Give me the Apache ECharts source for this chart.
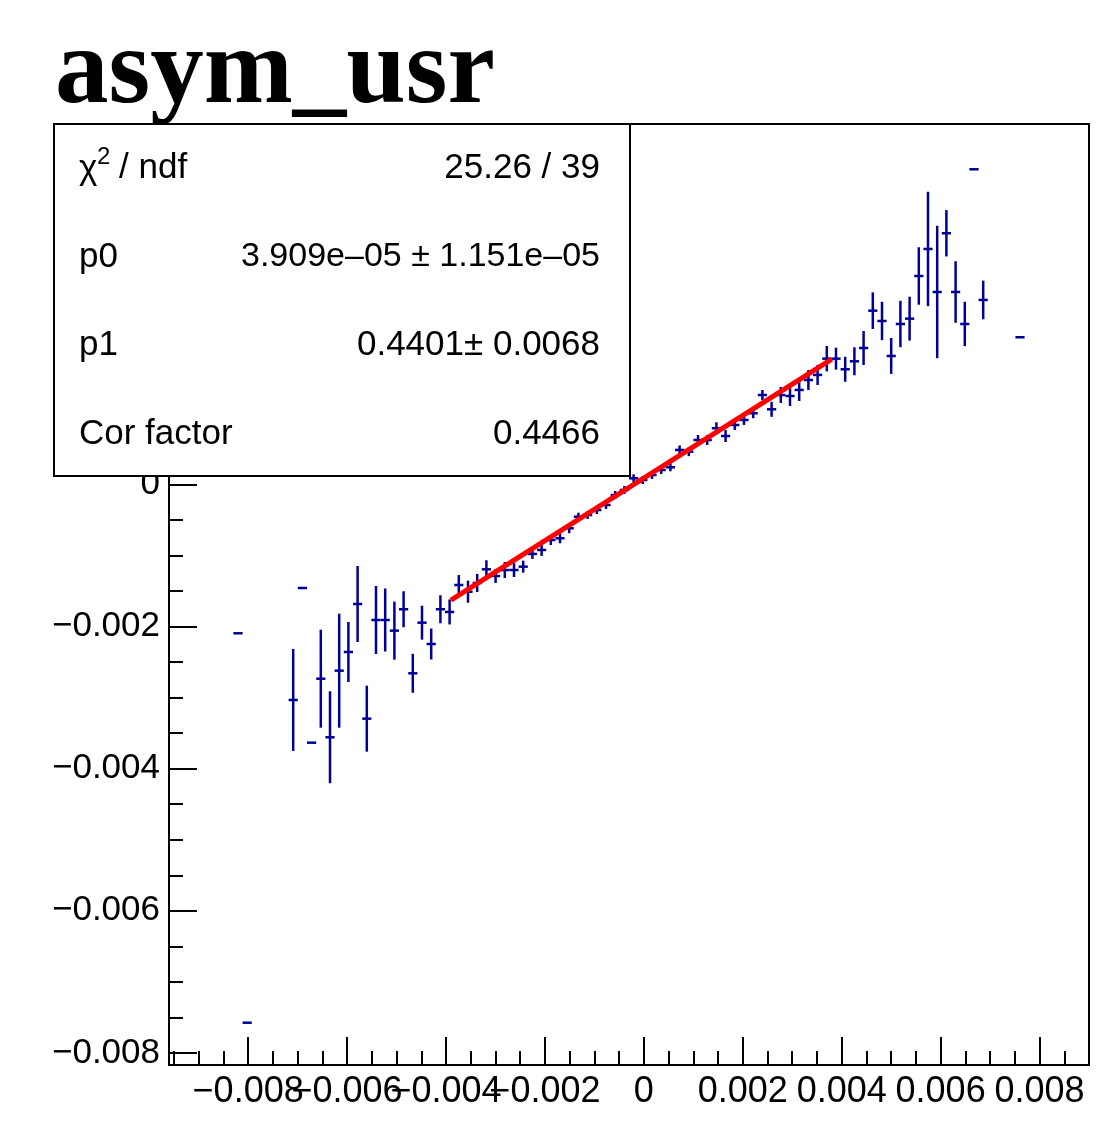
<!DOCTYPE html>
<html>
<head>
<meta charset="utf-8">
<script src="https://cdn.jsdelivr.net/npm/echarts@6/dist/echarts.min.js"></script>
<style>
html,body{margin:0;padding:0;background:#fff;}
#chart{width:1096px;height:1133px;}
</style>
</head>
<body>
<div id="chart"></div>
<script>
// ---- data (profile bins) ----
const binCenters = [-0.008205, -0.008019, -0.007089, -0.006903, -0.006717, -0.006531, -0.006345, -0.006159, -0.005973, -0.005787, -0.005601, -0.005415, -0.005229, -0.005043, -0.004857, -0.004671, -0.004485, -0.004299, -0.004113, -0.003927, -0.003741, -0.003555, -0.003369, -0.003183, -0.002997, -0.002811, -0.002625, -0.002439, -0.002253, -0.002067, -0.001881, -0.001695, -0.001509, -0.001323, -0.001137, -0.000951, -0.000765, -0.000579, -0.000393, -0.000207, -0.000021, 0.000165, 0.000351, 0.000537, 0.000723, 0.000909, 0.001095, 0.001281, 0.001467, 0.001653, 0.001839, 0.002025, 0.002211, 0.002397, 0.002583, 0.002769, 0.002955, 0.003141, 0.003327, 0.003513, 0.003699, 0.003885, 0.004071, 0.004257, 0.004443, 0.004629, 0.004815, 0.005001, 0.005187, 0.005373, 0.005559, 0.005745, 0.005931, 0.006117, 0.006303, 0.006489, 0.006675, 0.006861, 0.007605];
const meanValues = [-0.002096, -0.007574, -0.003034, -0.001459, -0.003635, -0.002735, -0.003559, -0.002622, -0.002359, -0.001684, -0.003297, -0.001909, -0.001909, -0.002059, -0.001758, -0.002659, -0.001947, -0.002247, -0.001758, -0.001796, -0.001417, -0.001511, -0.001388, -0.001196, -0.00129, -0.001206, -0.001206, -0.001159, -0.00098, -0.000924, -0.000784, -0.00076, -0.000619, -0.000456, -0.000432, -0.000362, -0.000291, -0.000151, -0.00008, 0.000084, 0.00006, 0.000131, 0.000201, 0.000239, 0.000483, 0.000459, 0.000623, 0.000623, 0.000788, 0.000679, 0.000834, 0.000905, 0.000999, 0.001256, 0.001055, 0.001256, 0.001242, 0.001327, 0.001467, 0.001538, 0.001767, 0.001767, 0.001618, 0.00173, 0.001917, 0.002442, 0.002297, 0.001805, 0.002255, 0.00233, 0.00293, 0.00331, 0.002705, 0.003531, 0.002705, 0.002255, 0.004431, 0.002593, 0.002068];
const meanErrors = [0, 0, 0.000717, 0, 0, 0.000689, 0.000647, 0.000802, 0.000422, 0.000535, 0.000464, 0.000478, 0.000443, 0.000408, 0.000253, 0.000274, 0.000239, 0.000218, 0.000197, 0.000176, 0.000141, 0.000155, 0.000127, 0.000127, 0.000098, 0.000113, 0.000098, 0.000084, 0.00007, 0.000084, 0.00007, 0.00007, 0.00007, 0.000056, 0.000056, 0.000056, 0.000056, 0.000056, 0.000056, 0.000056, 0.000056, 0.000056, 0.000056, 0.000056, 0.000063, 0.000063, 0.00007, 0.00007, 0.000084, 0.000084, 0.00007, 0.00007, 0.00007, 0.00007, 0.000106, 0.000113, 0.000141, 0.000155, 0.000141, 0.000141, 0.000179, 0.000155, 0.000176, 0.000197, 0.000239, 0.000257, 0.00027, 0.000253, 0.000326, 0.000309, 0.000404, 0.000805, 0.000931, 0.000326, 0.000433, 0.000312, 0, 0.000272, 0];
const binHalfWidth = 0.000093;

// fit line (pol1) end points
const fitX = [-0.0039, 0.0038];
const fitY = [-0.00163, 0.00176];

// axis ticks
const xMajorTicks = [-0.008, -0.006, -0.004, -0.002, 0, 0.002, 0.004, 0.006, 0.008];
const xLabelsA = [-0.008, -0.004, 0, 0.004, 0.008];
const xLabelsB = [-0.006, -0.002, 0.002, 0.006];
const xMinorTicks = [-0.0095, -0.009, -0.0085, -0.0075, -0.007, -0.0065, -0.0055, -0.005, -0.0045, -0.0035, -0.003, -0.0025, -0.0015, -0.001, -0.0005, 0.0005, 0.001, 0.0015, 0.0025, 0.003, 0.0035, 0.0045, 0.005, 0.0055, 0.0065, 0.007, 0.0075, 0.0085];
const yMajorTicks = [-0.008, -0.006, -0.004, -0.002, 0, 0.002, 0.004];
const yMinorTicks = [-0.0075, -0.007, -0.0065, -0.0055, -0.005, -0.0045, -0.0035, -0.003, -0.0025, -0.0015, -0.001, -0.0005, 0.0005, 0.001, 0.0015, 0.0025, 0.003, 0.0035, 0.0045, 0.005];

// stats box texts
const title = 'asym_usr';
const statLabels = ['/ ndf', 'p0', 'p1', 'Cor factor'];
const statValues = ['25.26 / 39', '3.909e\u201305 \u00b1 1.151e\u201305', '0.4401\u00b1 0.0068', '0.4466'];

const X_MIN = -0.0096, X_MAX = 0.009;
const Y_MIN = -0.008169, Y_MAX = 0.005068;

const fmt = v => v === 0 ? '0' : (v < 0 ? '\u2212' : '') + Math.abs(v).toFixed(3);

const pts = binCenters.map((x, i) => [x, meanValues[i], meanErrors[i], binHalfWidth]);

const FONT = 'Liberation Sans, Arial, Helvetica, sans-serif';
const BLUE = '#000099';
const LBL = {color: '#000', fontFamily: FONT, fontSize: 36, hideOverlap: false, showMinLabel: true, showMaxLabel: true};

const chart = echarts.init(document.getElementById('chart'), null, {renderer: 'canvas'});

function hiddenAxis(extra) {
  return Object.assign({type: 'value', splitLine: {show: false}, axisLine: {show: false, onZero: false}}, extra);
}

const option = {
  animation: false,
  backgroundColor: '#fff',
  grid: {left: 169, right: 7, top: 124, bottom: 68, show: true, borderColor: '#000', borderWidth: 2, backgroundColor: 'transparent'},
  xAxis: [
    {
      type: 'value', min: X_MIN, max: X_MAX, position: 'bottom', splitLine: {show: false},
      axisLine: {show: true, onZero: false, lineStyle: {color: '#000', width: 2}},
      axisTick: {show: true, inside: true, length: 28, customValues: xMajorTicks, lineStyle: {color: '#000', width: 2}},
      axisLabel: Object.assign({show: true, customValues: xLabelsA, formatter: fmt, margin: 9}, LBL)
    },
    hiddenAxis({
      min: X_MIN, max: X_MAX, position: 'bottom',
      axisTick: {show: true, inside: true, length: 14, customValues: xMinorTicks, lineStyle: {color: '#000', width: 2}},
      axisLabel: {show: false}
    }),
    hiddenAxis({
      min: X_MIN, max: X_MAX, position: 'bottom',
      axisTick: {show: false},
      axisLabel: Object.assign({show: true, customValues: xLabelsB, formatter: fmt, margin: 9}, LBL)
    })
  ],
  yAxis: [
    {
      type: 'value', min: Y_MIN, max: Y_MAX, position: 'left', splitLine: {show: false},
      axisLine: {show: true, onZero: false, lineStyle: {color: '#000', width: 2}},
      axisTick: {show: true, inside: true, length: 28, customValues: yMajorTicks, lineStyle: {color: '#000', width: 2}},
      axisLabel: Object.assign({show: true, customValues: yMajorTicks, formatter: fmt, margin: 9}, LBL, {fontSize: 35})
    },
    hiddenAxis({
      min: Y_MIN, max: Y_MAX, position: 'left',
      axisTick: {show: true, inside: true, length: 14, customValues: yMinorTicks, lineStyle: {color: '#000', width: 2}},
      axisLabel: {show: false}
    })
  ],
  series: [
    {
      type: 'custom',
      xAxisIndex: 0, yAxisIndex: 0,
      data: pts,
      z: 5,
      clip: true,
      renderItem: function (params, api) {
        const x = api.value(0), y = api.value(1), e = api.value(2), h = api.value(3);
        const l = api.coord([x - h, y]);
        const r = api.coord([x + h, y]);
        const children = [{
          type: 'line',
          shape: {x1: l[0], y1: l[1], x2: r[0], y2: r[1]},
          style: {stroke: BLUE, lineWidth: 2.5}
        }];
        if (e > 0) {
          const t = api.coord([x, y + e]);
          const b = api.coord([x, y - e]);
          children.push({
            type: 'line',
            shape: {x1: t[0], y1: t[1], x2: b[0], y2: b[1]},
            style: {stroke: BLUE, lineWidth: 2.5}
          });
        }
        return {type: 'group', children: children};
      }
    },
    {
      type: 'line',
      xAxisIndex: 0, yAxisIndex: 0,
      data: fitX.map((x, i) => [x, fitY[i]]),
      showSymbol: false,
      symbol: 'none',
      z: 6,
      lineStyle: {color: '#ff0000', width: 5},
      silent: true
    }
  ],
  graphic: [
    {
      type: 'text', left: 55, top: 21, z: 100,
      style: {text: title, font: 'bold 107px "Liberation Serif", "Times New Roman", serif', fill: '#000'}
    },
    {
      type: 'rect', z: 100,
      shape: {x: 54, y: 124, width: 576, height: 352},
      style: {fill: '#fff', stroke: '#000', lineWidth: 2}
    },
    // chi^2 label
    {type: 'text', z: 101, x: 79, y: 169, style: {text: '\u03c7', font: '35px ' + FONT, fill: '#000', verticalAlign: 'middle', align: 'left'}},
    {type: 'text', z: 101, x: 97, y: 157, style: {text: '2', font: '24px ' + FONT, fill: '#000', verticalAlign: 'middle', align: 'left'}},
    {type: 'text', z: 101, x: 119, y: 168, style: {text: statLabels[0], font: '35px ' + FONT, fill: '#000', verticalAlign: 'middle', align: 'left'}},
    {type: 'text', z: 101, x: 79, y: 257, style: {text: statLabels[1], font: '35px ' + FONT, fill: '#000', verticalAlign: 'middle', align: 'left'}},
    {type: 'text', z: 101, x: 79, y: 345, style: {text: statLabels[2], font: '35px ' + FONT, fill: '#000', verticalAlign: 'middle', align: 'left'}},
    {type: 'text', z: 101, x: 79, y: 434, style: {text: statLabels[3], font: '35px ' + FONT, fill: '#000', verticalAlign: 'middle', align: 'left'}},
    {type: 'text', z: 101, x: 600, y: 168, style: {text: statValues[0], font: '35px ' + FONT, fill: '#000', verticalAlign: 'middle', align: 'right'}},
    {type: 'text', z: 101, x: 600, y: 257, style: {text: statValues[1], font: '34px ' + FONT, fill: '#000', verticalAlign: 'middle', align: 'right'}},
    {type: 'text', z: 101, x: 600, y: 345, style: {text: statValues[2], font: '35px ' + FONT, fill: '#000', verticalAlign: 'middle', align: 'right'}},
    {type: 'text', z: 101, x: 600, y: 434, style: {text: statValues[3], font: '35px ' + FONT, fill: '#000', verticalAlign: 'middle', align: 'right'}}
  ]
};

chart.setOption(option);
</script>
</body>
</html>
